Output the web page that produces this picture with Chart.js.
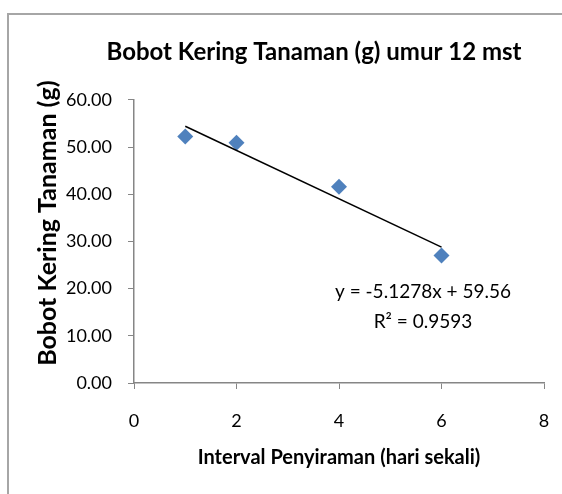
<!DOCTYPE html>
<html>
<head>
<meta charset="utf-8">
<script src="https://cdn.jsdelivr.net/npm/chart.js@4/dist/chart.umd.min.js"></script>
<style>
  html, body { margin: 0; padding: 0; background: #fff; overflow: hidden; }
  #wrap { position: relative; width: 562px; height: 494px; }
  #frame {
    position: absolute; left: 7px; top: 13px; width: 620px; height: 560px;
    border-left: 2px solid #a6a6a6; border-top: 2px solid #a6a6a6;
  }
  #chart { position: absolute; left: 0; top: 0; }
</style>
</head>
<body>
<div id="wrap">
  <div id="frame"></div>
  <canvas id="chart" width="562" height="494"></canvas>
</div>
<script>
// data
const intervalDays = [1, 2, 4, 6];
const dryWeight = [52.2, 50.9, 41.6, 27.0];
const trendX = [1, 6];
const trendY = [54.4, 28.8];
const eqLines = ['y = -5.1278x + 59.56', 'R\u00b2 = 0.9593'];

const FONT = 'Lato, "Open Sans", sans-serif';
const AXIS = '#868686';

// regression text, placed inside the plot like excel does
const eqLabel = {
    id: 'eqLabel',
    afterDatasetsDraw(chart) {
        const { ctx, chartArea } = chart;
        const cx = chartArea.left + 289;
        const cy = chartArea.top + 192;
        ctx.save();
        ctx.fillStyle = '#000';
        ctx.font = '19px ' + FONT;
        ctx.textAlign = 'center';
        ctx.textBaseline = 'middle';
        eqLines.forEach((t, i) => ctx.fillText(t, cx, cy + i * 30));
        ctx.restore();
    }
};

// excel centres the title over the whole frame, which runs off to the right
const titleShift = {
    id: 'titleShift',
    afterLayout(chart) {
        const t = chart.titleBlock;
        if (t) { t.left += 38; t.right += 38; }
    }
};

new Chart(document.getElementById('chart'), {
    type: 'scatter',
    data: {
        datasets: [
            {
                label: 'Bobot Kering',
                data: intervalDays.map((x, i) => ({ x, y: dryWeight[i] })),
                pointStyle: 'rectRot',
                pointRadius: 8,
                pointHoverRadius: 8,
                backgroundColor: '#4f81bd',
                borderColor: '#4f81bd',
                borderWidth: 0,
                order: 2
            },
            {
                label: 'Linear',
                type: 'line',
                data: trendX.map((x, i) => ({ x, y: trendY[i] })),
                borderColor: '#000',
                borderWidth: 1.5,
                pointRadius: 0,
                fill: false,
                order: 1
            }
        ]
    },
    options: {
        responsive: false,
        animation: false,
        layout: { padding: { left: 8, right: 18, top: 0, bottom: 0 } },
        plugins: {
            legend: { display: false },
            tooltip: { enabled: false },
            title: {
                display: true,
                text: 'Bobot Kering Tanaman (g) umur 12 mst',
                color: '#000',
                font: { family: FONT, size: 24, weight: 'bold' },
                padding: { top: 38, bottom: 33 }
            }
        },
        scales: {
            x: {
                type: 'linear',
                min: 0,
                max: 8,
                ticks: { stepSize: 2, color: '#000', font: { family: FONT, size: 18 }, padding: 21 },
                grid: { drawOnChartArea: false, drawTicks: true, tickLength: 6, color: AXIS },
                border: { color: AXIS, width: 1.5 },
                title: {
                    display: true,
                    text: 'Interval Penyiraman (hari sekali)',
                    color: '#000',
                    font: { family: FONT, size: 20, weight: 'bold' },
                    padding: { top: 0, bottom: 24 }
                },
                afterFit(scale) {
                    scale.height = 111;
                    // tick padding would otherwise eat into the right margin
                    scale.paddingLeft = 0;
                    scale.paddingRight = 0;
                }
            },
            y: {
                min: 0,
                max: 60,
                ticks: {
                    stepSize: 10,
                    color: '#000',
                    font: { family: FONT, size: 18 },
                    padding: 16,
                    callback: v => v.toFixed(2)
                },
                grid: { drawOnChartArea: false, drawTicks: true, tickLength: 6, color: AXIS },
                border: { color: AXIS, width: 1.5 },
                title: {
                    display: true,
                    text: '      Bobot Kering Tanaman (g)',
                    color: '#000',
                    font: { family: FONT, size: 25, weight: 'bold' },
                    padding: { top: 25, bottom: 0 }
                },
                afterFit(scale) { scale.width = 126; }
            }
        }
    },
    plugins: [eqLabel, titleShift]
});
</script>
</body>
</html>
